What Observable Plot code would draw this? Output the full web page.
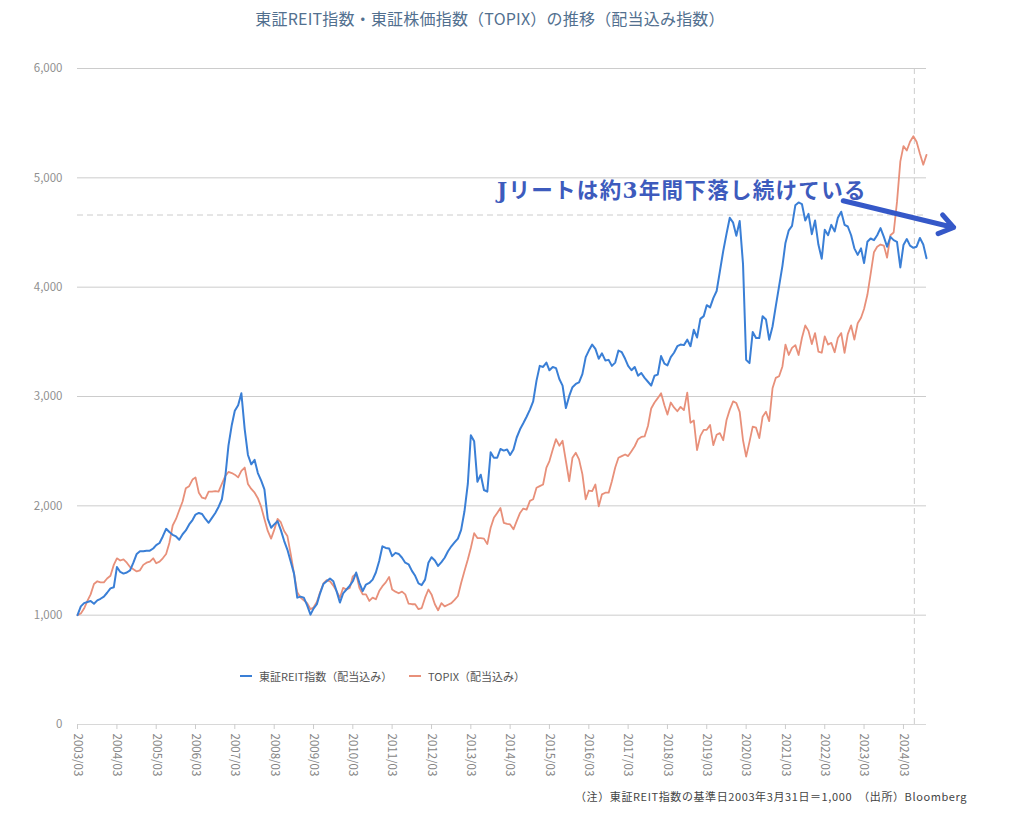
<!DOCTYPE html>
<html><head><meta charset="utf-8">
<script src="https://cdn.jsdelivr.net/npm/d3@7"></script>
<script src="https://cdn.jsdelivr.net/npm/@observablehq/plot@0.6"></script>
<style>
body{margin:0;background:#fff;}
#wrap{position:relative;width:1024px;height:813px;overflow:hidden;font-family:"Noto Sans CJK JP","Noto Sans",sans-serif;}
#chart{position:absolute;left:0;top:0;}
#title{position:absolute;top:6px;left:490px;transform:translateX(-50%);white-space:nowrap;font-size:16px;letter-spacing:0.2px;color:#52708f;}
.leg{position:absolute;top:668px;font-size:11px;color:#555;white-space:nowrap;display:flex;align-items:center;height:16px;}
.leg i{display:inline-block;width:12px;height:2px;margin-right:7px;}
#note{position:absolute;left:497px;top:173px;font-size:21.5px;font-weight:700;color:#3d5bbd;white-space:nowrap;font-family:"DejaVu Serif","Noto Sans CJK JP",serif;letter-spacing:1.3px;}
#foot{position:absolute;left:575px;top:788px;font-size:11px;color:#444;white-space:pre;letter-spacing:0.6px;}
</style></head><body>
<div id="wrap">
 <div id="chart"></div>
 <div id="title">東証REIT指数・東証株価指数（TOPIX）の推移（配当込み指数）</div>
 <div class="leg" id="leg1" style="left:240px"><i style="background:#3a7fd6"></i><span id="lab1"></span></div>
 <div class="leg" id="leg2" style="left:409px"><i style="background:#e8907a"></i><span id="lab2"></span></div>
 <div id="note">Jリートは約3年間下落し続けている</div>
 <div id="foot">（注）東証REIT指数の基準日2003年3月31日＝1,000　（出所）Bloomberg</div>
</div>
<script>
// Series names
const seriesNames = ["東証REIT指数（配当込み）", "TOPIX（配当込み）"];

// Monthly values, 2003/03 – 2024/10
const reitValues = [
  // 2003 (Mar–Dec)
  1000,1080,1110,1120,1130,1105,1135,1150,1170,1205,
  // 2004
  1245,1255,1440,1395,1380,1390,1410,1480,1560,1585,1585,1590,
  // 2005
  1590,1610,1640,1660,1720,1790,1760,1735,1720,1690,1740,1775,
  // 2006
  1830,1870,1920,1935,1925,1880,1845,1890,1935,1990,2060,2250,
  // 2007
  2550,2740,2870,2920,3030,2700,2465,2380,2420,2300,2230,2150,
  // 2008
  1880,1800,1830,1860,1780,1680,1600,1490,1380,1160,1170,1160,
  // 2009
  1090,1005,1060,1100,1200,1285,1310,1335,1310,1220,1115,1200,
  // 2010
  1235,1270,1310,1390,1295,1220,1280,1295,1325,1390,1495,1630,
  // 2011
  1615,1610,1540,1570,1560,1525,1480,1465,1405,1360,1290,1275,
  // 2012
  1325,1480,1530,1500,1450,1485,1525,1585,1630,1665,1700,1780,
  // 2013
  1950,2200,2645,2590,2220,2285,2145,2130,2490,2440,2440,2520,
  // 2014
  2505,2515,2465,2515,2625,2700,2755,2815,2880,2955,3145,3280,
  // 2015
  3270,3310,3240,3270,3260,3160,3100,2895,3005,3085,3115,3130,
  // 2016
  3205,3360,3420,3475,3435,3345,3395,3330,3335,3280,3310,3420,
  // 2017
  3405,3345,3280,3240,3270,3190,3215,3170,3135,3100,3190,3200,
  // 2018
  3370,3300,3285,3360,3400,3460,3475,3470,3520,3460,3610,3540,
  // 2019
  3710,3735,3835,3815,3900,3965,4145,4330,4490,4635,4590,4470,
  // 2020
  4605,4210,3335,3305,3590,3535,3535,3735,3705,3520,3640,3825,
  // 2021
  4010,4195,4405,4520,4560,4750,4775,4760,4610,4670,4485,4610,
  // 2022
  4390,4260,4525,4475,4570,4510,4635,4690,4570,4555,4475,4355,
  // 2023
  4295,4355,4220,4415,4445,4430,4475,4540,4460,4370,4460,4430,
  // 2024 (Jan–Oct)
  4415,4180,4385,4440,4380,4360,4370,4450,4390,4265
];

const topixValues = [
  // 2003 (Mar–Dec)
  1000,1015,1060,1130,1190,1285,1310,1300,1300,1335,
  // 2004
  1360,1460,1520,1500,1510,1480,1440,1420,1400,1410,1460,1480,
  // 2005
  1490,1520,1475,1490,1520,1560,1660,1820,1880,1960,2040,2160,
  // 2006
  2180,2240,2260,2120,2075,2065,2130,2130,2135,2130,2200,2270,
  // 2007
  2310,2300,2285,2260,2320,2350,2200,2155,2120,2070,1990,1880,
  // 2008
  1770,1700,1780,1880,1850,1770,1725,1560,1380,1210,1160,1135,
  // 2009
  1110,1055,1070,1120,1210,1290,1320,1310,1270,1220,1160,1250,
  // 2010
  1235,1250,1355,1380,1250,1190,1190,1130,1160,1145,1220,1265,
  // 2011
  1300,1350,1235,1215,1200,1215,1190,1105,1100,1100,1055,1065,
  // 2012
  1160,1235,1190,1100,1045,1110,1080,1095,1110,1140,1175,1295,
  // 2013
  1405,1510,1615,1750,1705,1705,1700,1650,1800,1890,1935,1980,
  // 2014
  1845,1835,1830,1785,1860,1935,1975,1965,2045,2060,2165,2180,
  // 2015
  2195,2350,2410,2515,2610,2550,2595,2410,2225,2440,2485,2425,
  // 2016
  2290,2060,2140,2135,2195,1995,2105,2120,2120,2225,2350,2440,
  // 2017
  2455,2470,2455,2500,2545,2610,2630,2635,2730,2890,2945,2985,
  // 2018
  3030,2920,2835,2945,2900,2865,2905,2875,3035,2760,2780,2510,
  // 2019
  2640,2695,2695,2740,2555,2650,2665,2600,2785,2880,2955,2940,
  // 2020
  2860,2600,2450,2585,2725,2715,2620,2815,2860,2775,3075,3170,
  // 2021
  3185,3275,3475,3380,3445,3470,3380,3535,3650,3600,3480,3580,
  // 2022
  3410,3400,3550,3475,3490,3405,3535,3580,3400,3570,3650,3520,
  // 2023
  3670,3720,3800,3930,4120,4320,4370,4390,4380,4270,4475,4500,
  // 2024 (Jan–Oct)
  4780,5150,5290,5250,5330,5380,5330,5220,5120,5210
];

// Month categories
const months = d3.utcMonth.range(new Date(Date.UTC(2003, 2, 1)), new Date(Date.UTC(2024, 10, 1)));
// Axis ticks
const yTicks = [0, 1000, 2000, 3000, 4000, 5000, 6000];
const xTicks = months.filter(d => d.getUTCMonth() === 2);
// Reference lines
const refLevel = [4660];
const refDate = [new Date(Date.UTC(2024, 5, 10))];
// Annotation arrow (data space)
const arrowSpec = [{x1: new Date(Date.UTC(2022, 7, 20)), y1: 4790, x2: new Date(Date.UTC(2025, 5, 10)), y2: 4546}];

const reitData = months.map((d, i) => ({date: d, value: reitValues[i]}));
const topixData = months.map((d, i) => ({date: d, value: topixValues[i]}));

document.getElementById("lab1").textContent = seriesNames[0];
document.getElementById("lab2").textContent = seriesNames[1];

const chart = Plot.plot({
  width: 1024, height: 813,
  marginTop: 68, marginBottom: 89, marginLeft: 77, marginRight: 98,
  style: {fontFamily: '"Noto Sans CJK JP", "Noto Sans", sans-serif', fontSize: "11px", background: "transparent", overflow: "visible"},
  x: {type: "utc", domain: [months[0], months[months.length - 1]]},
  y: {domain: [0, 6000]},
  marks: [
    Plot.gridY(yTicks.filter(d => d > 0), {stroke: "#cccccc", strokeOpacity: 1}),
    Plot.ruleY([0], {stroke: "#d8d8d8"}),
    Plot.ruleY(refLevel, {stroke: "#cccccc", strokeDasharray: "6,4"}),
    Plot.ruleX(refDate, {stroke: "#cccccc", strokeDasharray: "6,4"}),
    Plot.axisY({ticks: yTicks, tickSize: 0, tickPadding: 15, tickFormat: d3.format(","), fill: "#909090", label: null, fontSize: 11.5}),
    Plot.axisX({ticks: xTicks, tickFormat: d3.utcFormat("%Y/%m"), tickRotate: 90, tickSize: 5, tickPadding: 4, stroke: "#cccccc", fill: "#858585", label: null, fontSize: 11.5}),
    Plot.lineY(topixData, {x: "date", y: "value", stroke: "#e8907a", strokeWidth: 1.8}),
    Plot.lineY(reitData, {x: "date", y: "value", stroke: "#3a7fd6", strokeWidth: 2}),
    Plot.arrow(arrowSpec, {x1: "x1", y1: "y1", x2: "x2", y2: "y2", stroke: "#3558c8", strokeWidth: 5, headLength: 5, headAngle: 70})
  ]
});
document.getElementById("chart").appendChild(chart);
</script>
</body></html>
